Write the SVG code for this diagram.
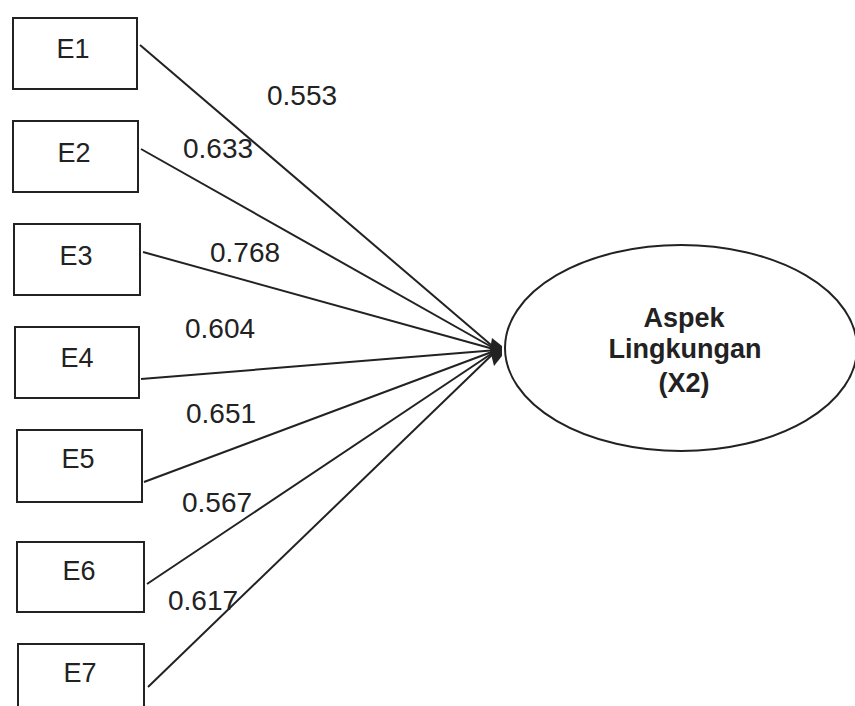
<svg xmlns="http://www.w3.org/2000/svg" width="855" height="706" viewBox="0 0 855 706">
<style>
.box{fill:#fff;stroke:#222;stroke-width:2}
.bt{font-family:"Liberation Sans",Arial,sans-serif;font-size:27px;fill:#222;text-anchor:middle}
.lab{font-family:"Liberation Sans",Arial,sans-serif;font-size:28px;fill:#222}
.ln{stroke:#222;stroke-width:2;fill:none}
.et{font-family:"Liberation Sans",Arial,sans-serif;font-size:27px;font-weight:bold;fill:#222;text-anchor:middle}
</style>
<rect width="855" height="706" fill="#fff"/>
<g id="connectors">
<line class="ln" x1="140" y1="45" x2="497" y2="350"/>
<line class="ln" x1="141" y1="149" x2="497" y2="350"/>
<line class="ln" x1="143" y1="252" x2="497" y2="350"/>
<line class="ln" x1="141" y1="379" x2="497" y2="350"/>
<line class="ln" x1="144" y1="482" x2="497" y2="350"/>
<line class="ln" x1="147" y1="584" x2="497" y2="350"/>
<line class="ln" x1="148" y1="687" x2="497" y2="350"/>
<path d="M492,338 L502,346 L502,356 L494,366 L490,350 Z" fill="#222"/>
<text class="lab" x="267" y="105">0.553</text>
<text class="lab" x="183" y="158">0.633</text>
<text class="lab" x="210" y="262">0.768</text>
<text class="lab" x="185" y="338">0.604</text>
<text class="lab" x="186" y="423">0.651</text>
<text class="lab" x="182" y="512">0.567</text>
<text class="lab" x="168" y="610">0.617</text>
</g>
<g id="E1"><rect class="box" x="13" y="18" width="124" height="71"/><text class="bt" x="73" y="58">E1</text></g>
<g id="E2"><rect class="box" x="13" y="121" width="125" height="71"/><text class="bt" x="74" y="162">E2</text></g>
<g id="E3"><rect class="box" x="14" y="224" width="126" height="71"/><text class="bt" x="76" y="265">E3</text></g>
<g id="E4"><rect class="box" x="15" y="327" width="124" height="71"/><text class="bt" x="77" y="367">E4</text></g>
<g id="E5"><rect class="box" x="17" y="430" width="125" height="72"/><text class="bt" x="78" y="468">E5</text></g>
<g id="E6"><rect class="box" x="17" y="542" width="127" height="70"/><text class="bt" x="79" y="580">E6</text></g>
<g id="E7"><rect class="box" x="18" y="644" width="126" height="72"/><text class="bt" x="80" y="682">E7</text></g>
<g id="X2">
<ellipse cx="681" cy="348" rx="176" ry="103" fill="#fff" stroke="#222" stroke-width="2"/>
<text class="et" x="684" y="327">Aspek</text>
<text class="et" x="685" y="358">Lingkungan</text>
<text class="et" x="684" y="392">(X2)</text>
</g>
</svg>
